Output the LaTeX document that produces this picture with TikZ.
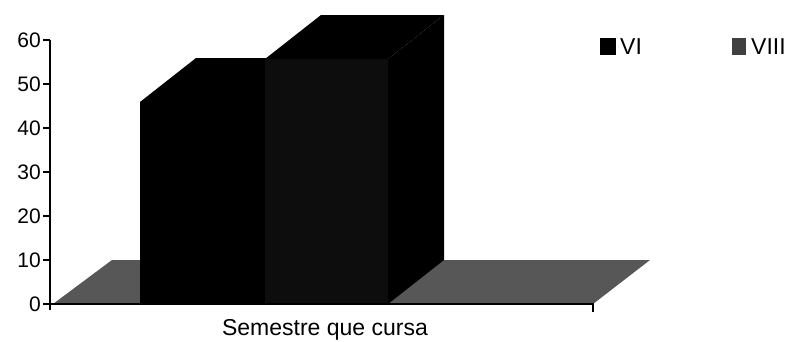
\documentclass[tikz,border=0pt]{standalone}
\usepackage{fontspec}
\setmainfont{Liberation Sans}
\begin{document}
\begin{tikzpicture}[x=1pt,y=-1pt,
  axisline/.style={draw=black,line width=1.1pt},
  ticklbl/.style={anchor=east,inner sep=0pt,font=\fontsize{21}{23}\selectfont},
  floorface/.style={fill=black!66},
  darkface/.style={fill=black},
  eightface/.style={fill=black!95},
  legtext/.style={anchor=west,inner sep=0pt,font=\fontsize{23}{25}\selectfont}]
\useasboundingbox (0,0) rectangle (788,341);
\fill[white] (0,0) rectangle (788,341);
% floor
\fill[floorface] (53,304) -- (112,260) -- (650,260) -- (593,304) -- cycle;
% bar VI
\fill[darkface] (140,304) -- (265,304) -- (265,102) -- (140,102) -- cycle;
\fill[darkface] (140,102) -- (265,102) -- (321,58) -- (196,58) -- cycle;
% bar VIII
\fill[eightface] (265,304) -- (388,304) -- (388,59) -- (265,59) -- cycle;
\fill[darkface] (265,59) -- (388,59) -- (444,15) -- (321,15) -- cycle;
\fill[darkface] (388,304) -- (444,260) -- (444,15) -- (388,59) -- cycle;
% axes
\coordinate (ytop) at (50,40);
\coordinate (ybot) at (50,310);
\coordinate (xl) at (50,304);
\coordinate (xr) at (593,304);
\coordinate (xrt) at (593,312);
\draw[axisline] (ytop) -- (ybot);
\draw[axisline] (xl) -- (xr) -- (xrt);
\foreach \v [count=\i from 0] in {0,10,20,30,40,50,60} {
  \coordinate (t\i) at (50,{304-\i*44});
  \coordinate (tl\i) at (43,{304-\i*44});
  \draw[axisline] (tl\i) -- (t\i);
  \node[ticklbl] (lbl\i) at (41,{304-\i*44}) {\v};
}
% x label
\node[inner sep=0pt,font=\fontsize{23}{25}\selectfont] (xlabel) at (325,330) {Semestre que cursa};
% legend
\fill[black] (600,38) rectangle (616,55);
\node[legtext] (legVI) at (620,47) {VI};
\fill[black!75] (732,38) rectangle (746,55);
\node[legtext] (legVIII) at (751,47) {VIII};
\end{tikzpicture}
\end{document}
